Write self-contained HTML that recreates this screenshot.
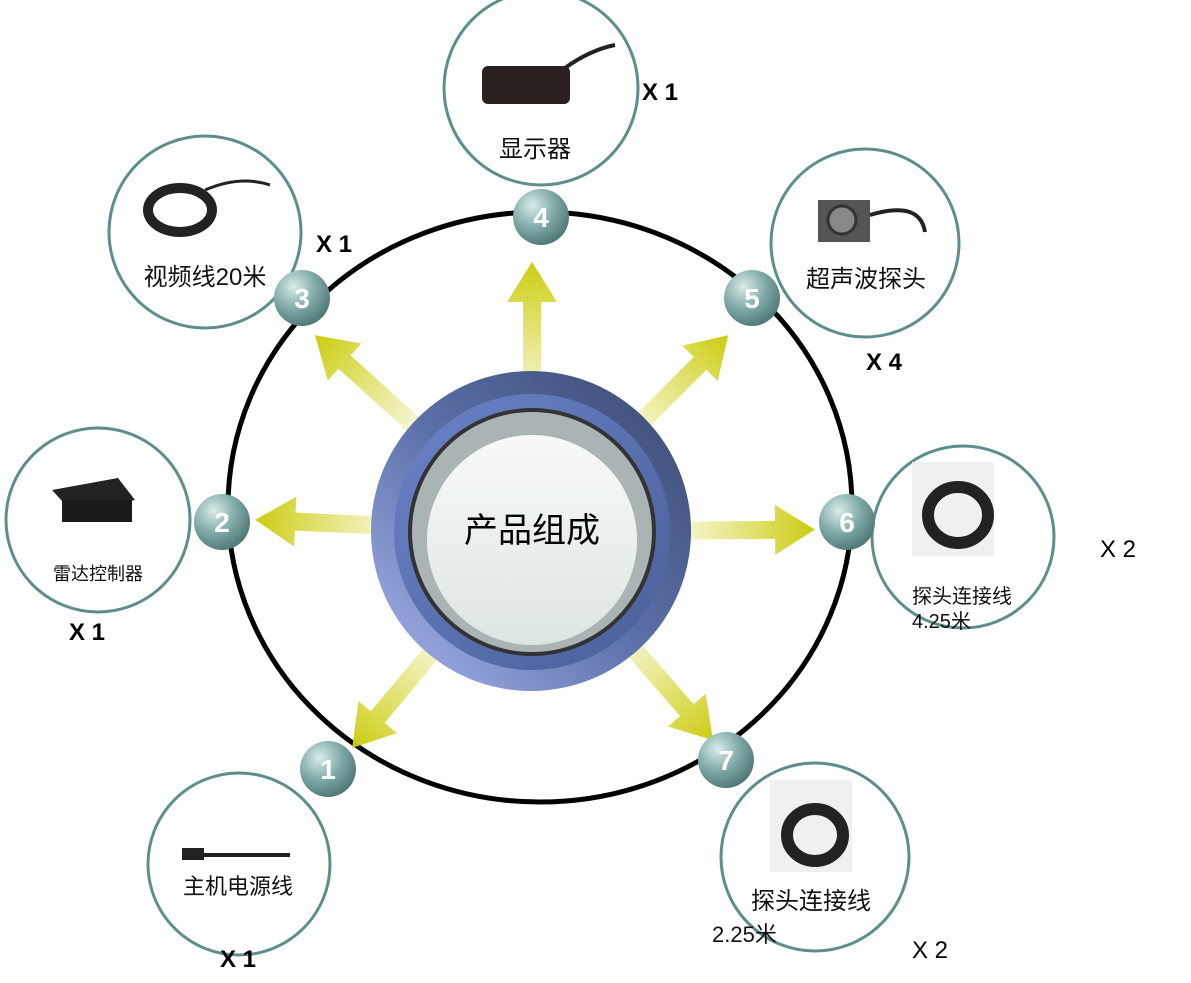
<!DOCTYPE html>
<html><head><meta charset="utf-8"><style>
html,body{margin:0;padding:0;background:#fff;}
svg{display:block;}
text{font-family:"Liberation Sans","Noto Sans CJK SC",sans-serif;}
</style></head><body>
<svg width="1191" height="983" viewBox="0 0 1191 983" xmlns="http://www.w3.org/2000/svg">
<defs>
<linearGradient id="ag" x1="0" y1="0" x2="1" y2="0">
<stop offset="0" stop-color="#d4d42a" stop-opacity="0.05"/>
<stop offset="1" stop-color="#cccc10"/>
</linearGradient>
<radialGradient id="ball" cx="0.35" cy="0.3" r="0.8">
<stop offset="0" stop-color="#d8ecea"/>
<stop offset="0.5" stop-color="#7fa9a6"/>
<stop offset="1" stop-color="#466f6c"/>
</radialGradient>
<linearGradient id="outer" x1="0" y1="1" x2="1" y2="0">
<stop offset="0" stop-color="#a9b7ee"/>
<stop offset="0.5" stop-color="#5b6fa8"/>
<stop offset="1" stop-color="#3b4a70"/>
</linearGradient>
<linearGradient id="mid" x1="0" y1="0" x2="1" y2="1">
<stop offset="0" stop-color="#6a82c8"/>
<stop offset="1" stop-color="#4a5f98"/>
</linearGradient>
<linearGradient id="inner" x1="0" y1="0" x2="0" y2="1">
<stop offset="0" stop-color="#f8f9f9"/>
<stop offset="1" stop-color="#dde5e4"/>
</linearGradient>
<g id="arrow">
<polygon points="0,-9 120,-9 120,-25 160,0 120,25 120,9 0,9" fill="url(#ag)"/>
</g>
</defs>

<ellipse cx="540" cy="507" rx="312" ry="295" fill="none" stroke="#000" stroke-width="5"/>

<g transform="translate(532,532)">
<use href="#arrow" transform="rotate(-90) translate(110,0)"/>
<use href="#arrow" transform="rotate(-45.1) translate(118,0)"/>
<use href="#arrow" transform="rotate(-137.8) translate(133,0)"/>
<use href="#arrow" transform="rotate(182.5) translate(117,0)"/>
<use href="#arrow" transform="rotate(-0.5) translate(123,0)"/>
<use href="#arrow" transform="rotate(129.8) translate(121,0)"/>
<use href="#arrow" transform="rotate(49) translate(116,0)"/>
</g>

<circle cx="531" cy="531" r="160" fill="url(#outer)"/>
<circle cx="532" cy="532" r="138" fill="url(#mid)"/>
<circle cx="532" cy="532" r="124" fill="#333"/>
<circle cx="532" cy="532" r="120" fill="#aab4b4"/>
<circle cx="532" cy="540" r="105" fill="url(#inner)"/>
<text x="532" y="542" font-size="34" text-anchor="middle" fill="#000" font-family="Liberation Serif,'Noto Serif CJK SC',serif">产品组成</text>

<g fill="#fff" stroke="#5d8e8c" stroke-width="3">
<circle cx="541" cy="88" r="97"/>
<circle cx="205" cy="232" r="96"/>
<circle cx="865" cy="243" r="94"/>
<circle cx="98" cy="520" r="92"/>
<circle cx="963" cy="537" r="91"/>
<circle cx="239" cy="864" r="91"/>
<circle cx="815" cy="857" r="94"/>
</g>

<rect x="482" y="66" width="88" height="38" rx="6" fill="#2a2020"/>
<path d="M565 68 Q590 50 615 45" stroke="#222" stroke-width="4" fill="none"/>
<ellipse cx="180" cy="210" rx="32" ry="22" fill="none" stroke="#222" stroke-width="10"/>
<path d="M205 190 Q240 175 270 185" stroke="#222" stroke-width="3" fill="none"/>
<rect x="818" y="200" width="52" height="42" fill="#555"/>
<circle cx="842" cy="220" r="14" fill="#888" stroke="#333" stroke-width="3"/>
<path d="M870 215 Q920 200 925 232" stroke="#222" stroke-width="4" fill="none"/>
<polygon points="52,490 118,478 135,500 72,512" fill="#222"/>
<rect x="62" y="500" width="70" height="22" fill="#1a1a1a"/>
<rect x="912" y="462" width="82" height="94" fill="#f0f0f0"/>
<ellipse cx="958" cy="515" rx="30" ry="28" fill="none" stroke="#222" stroke-width="12"/>
<rect x="770" y="780" width="82" height="92" fill="#f0f0f0"/>
<ellipse cx="815" cy="835" rx="28" ry="26" fill="none" stroke="#222" stroke-width="12"/>
<path d="M185 855 L290 855" stroke="#222" stroke-width="4"/>
<rect x="182" y="848" width="22" height="12" fill="#222"/>

<g font-size="24" fill="#111" text-anchor="middle">
<text x="535" y="157">显示器</text>
<text x="205" y="285">视频线20米</text>
<text x="866" y="287">超声波探头</text>
<text x="811" y="909">探头连接线</text>
<text x="238" y="894" font-size="22">主机电源线</text>
</g>
<text x="98" y="580" font-size="18" fill="#111" text-anchor="middle">雷达控制器</text>
<text x="912" y="603" font-size="20" fill="#111">探头连接线</text>
<text x="912" y="628" font-size="20" fill="#111">4.25米</text>
<text x="712" y="942" font-size="22" fill="#111">2.25米</text>

<g font-size="24" font-weight="bold" fill="#000">
<text x="642" y="100">X 1</text>
<text x="316" y="252">X 1</text>
<text x="866" y="370">X 4</text>
<text x="69" y="640">X 1</text>
<text x="1100" y="557" font-weight="normal">X 2</text>
<text x="220" y="967">X 1</text>
<text x="912" y="958" font-weight="normal">X 2</text>
</g>

<g font-size="28" font-weight="bold" fill="#fff" text-anchor="middle">
<circle cx="541" cy="217" r="28" fill="url(#ball)"/><text x="541" y="227">4</text>
<circle cx="302" cy="298" r="28" fill="url(#ball)"/><text x="302" y="308">3</text>
<circle cx="752" cy="298" r="28" fill="url(#ball)"/><text x="752" y="308">5</text>
<circle cx="222" cy="522" r="28" fill="url(#ball)"/><text x="222" y="532">2</text>
<circle cx="847" cy="522" r="28" fill="url(#ball)"/><text x="847" y="532">6</text>
<circle cx="328" cy="769" r="28" fill="url(#ball)"/><text x="328" y="779">1</text>
<circle cx="726" cy="760" r="28" fill="url(#ball)"/><text x="726" y="770">7</text>
</g>
</svg>
</body></html>
